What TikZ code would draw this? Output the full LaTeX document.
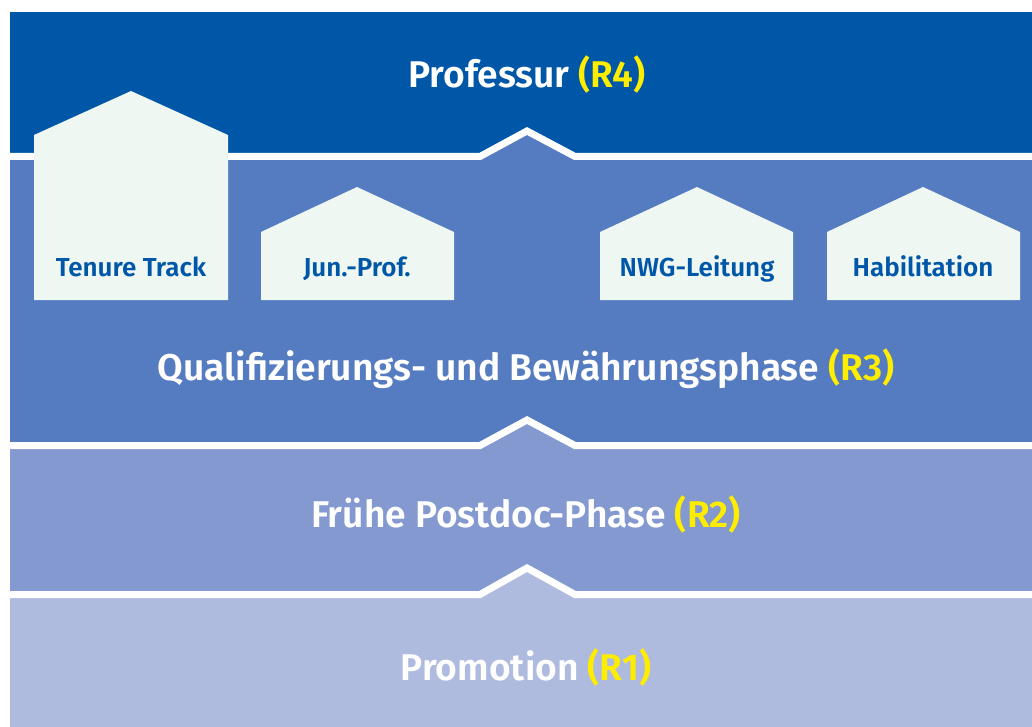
\documentclass[tikz,border=0pt]{standalone}
\usepackage{fontspec}
\setmainfont{Fira Sans}[BoldFont={Fira Sans SemiBold}]
\definecolor{bandA}{HTML}{0057A8}
\definecolor{bandB}{HTML}{557BC0}
\definecolor{bandC}{HTML}{8399CF}
\definecolor{bandD}{HTML}{AEBBDF}
\definecolor{houseFill}{HTML}{EFF7F3}
\definecolor{rYellow}{HTML}{FFED00}
\tikzset{
  sepline/.style={draw=white, line width=7pt, miter limit=20},
  bandtitle/.style={anchor=base, text=white, font=\bfseries\fontsize{37.2}{42}\selectfont, inner sep=0pt},
  housetext/.style={anchor=base, text=bandA, font=\bfseries\fontsize{26}{30}\selectfont, inner sep=0pt},
  housebox/.style={fill=houseFill},
}
\newcommand{\rlab}[1]{\textcolor{rYellow}{#1}}
\begin{document}
\begin{tikzpicture}[x=1pt,y=-1pt]
\useasboundingbox (0,0) rectangle (1032,727);
\fill[white] (0,0) rectangle (1032,727);
% bands
\fill[bandA] (10,12) rectangle (1032,158);
\fill[bandB] (10,156) rectangle (1032,447);
\fill[bandC] (10,444) rectangle (1032,596);
\fill[bandD] (10,593) rectangle (1032,727);
% chevron fills
\fill[bandB] (478,157) -- (527,130) -- (577,157) -- cycle;
\fill[bandC] (478,446) -- (527,419) -- (577,446) -- cycle;
\fill[bandD] (478,595) -- (527,567) -- (577,595) -- cycle;
% separator lines
\draw[sepline] (10,156.5) -- (480,156.5) -- (527,131) -- (575,156.5) -- (1032,156.5);
\draw[sepline] (10,445.5) -- (480,445.5) -- (527,420) -- (575,445.5) -- (1032,445.5);
\draw[sepline] (10,594.5) -- (480,594.5) -- (527,568) -- (575,594.5) -- (1032,594.5);
% houses
\fill[housebox] (34,300) -- (34,135) -- (131,91) -- (228,135) -- (228,300) -- cycle;
\fill[housebox] (261,300) -- (261,232) -- (357,187) -- (454,232) -- (454,300) -- cycle;
\fill[housebox] (600,300) -- (600,232) -- (697,187) -- (793,232) -- (793,300) -- cycle;
\fill[housebox] (827,300) -- (827,232) -- (923,187) -- (1020,232) -- (1020,300) -- cycle;
% texts
\node[bandtitle] (r4) at (527,88) {Professur \rlab{(R4)}};
\node[bandtitle] (r3) at (526,380) {Qualifizierungs- und Bewährungsphase \rlab{(R3)}};
\node[bandtitle] (r2) at (526,527) {Frühe Postdoc-Phase \rlab{(R2)}};
\node[bandtitle] (r1) at (526,680) {Promotion \rlab{(R1)}};
\node[housetext] (tt) at (131,276) {Tenure Track};
\node[housetext] (jp) at (357,276) {Jun.-Prof.};
\node[housetext] (nwg) at (697,276) {NWG-Leitung};
\node[housetext] (hab) at (923,276) {Habilitation};
\end{tikzpicture}
\end{document}
